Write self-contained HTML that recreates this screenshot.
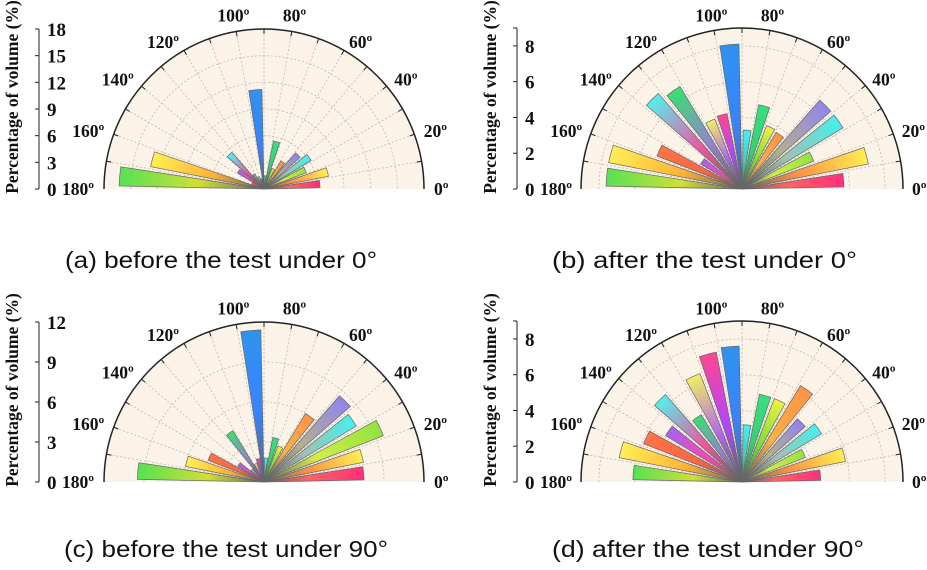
<!DOCTYPE html>
<html><head><meta charset="utf-8"><style>
html,body{margin:0;padding:0;background:#fff;}
svg{display:block;}
.lab{font-family:"Liberation Serif",serif;font-weight:bold;font-size:19px;fill:#111;}
.ang{font-family:"Liberation Serif",serif;font-weight:bold;font-size:17.5px;fill:#111;}
.cap{font-family:"Liberation Sans",sans-serif;font-size:23px;fill:#111;}
</style></head><body>
<svg id="fig" width="927" height="570" viewBox="0 0 927 570" xmlns="http://www.w3.org/2000/svg">
<defs id="defs"></defs>
</svg>
<script>
const binCenters=[5,15,25,35,45,55,65,75,85,95,105,115,125,135,145,155,165,175];
const valuesA=[6.3,7.4,5.1,6.2,5.4,3.7,2.5,5.5,1.5,11.2,1.2,1.5,2.0,5.5,3.5,1.5,13.0,16.3];
const valuesB=[5.7,7.2,4.3,6.6,6.6,3.7,3.8,4.8,3.3,8.1,4.3,4.2,6.7,7.1,2.7,5.1,7.6,7.6];
const valuesC=[7.5,7.6,9.6,8.1,8.6,6.0,2.9,3.4,1.8,11.4,1.8,1.5,4.5,1.3,2.3,4.5,6.0,9.5];
const valuesD=[4.4,5.9,3.8,5.2,4.7,6.3,5.0,5.0,3.2,7.6,7.4,6.5,4.4,6.5,5.0,5.9,7.0,6.1];
const ticksA=[0,3,6,9,12,15,18];
const ticksB=[0,2,4,6,8];
const ticksC=[0,3,6,9,12];
const ticksD=[0,2,4,6,8];
const angleLabels=[0,20,40,60,80,100,120,140,160,180];
const captions=["(a) before the test under 0°","(b) after the test under 0°","(c) before the test under 90°","(d) after the test under 90°"];
const outerColors=["#ff1a6e","#ffee44","#88e030","#33eeee","#8877ee","#ff8833","#eeee33","#22dd77","#33eeff","#1a88ee","#ff3388","#eeee55","#22dd66","#44eeee","#9955ee","#ff6633","#ffee44","#44e044"];
const midColors=["#ff5555","#ff8833","#ccee33","#99bbaa","#aaaa88","#ffaa33","#66dd22","#22cc66","#22ccaa","#2277ff","#aa33ff","#aa55ee","#8877cc","#ee4499","#ff33aa","#ff5533","#ffaa22","#ccdd22"];

const svg=document.getElementById('fig');
const defs=document.getElementById('defs');
const NS='http://www.w3.org/2000/svg';
function mk(tag,attrs,parent){const e=document.createElementNS(NS,tag);for(const k in attrs)e.setAttribute(k,attrs[k]);(parent||svg).appendChild(e);return e;}

let gid=0;
function panel(pid,cx,cy,R,maxV,ticks,vals,capText,capX,capY,capW){
  const g=mk('g',{});
  
  
  const rad=d=>d*Math.PI/180;
  const rScale=v=>v/maxV*R;
  const px=(a,r)=>cx+r*Math.cos(rad(a));
  const py=(a,r)=>cy-r*Math.sin(rad(a));
  const bg=mk('path',{d:`M${cx-R},${cy} A${R},${R} 0 0 1 ${cx+R},${cy} Z`,fill:'#fbf3e7'},g);
  
  
  for(const t of ticks){ if(t<=0||t>=maxV) continue;
    const r=rScale(t);
    const c=mk('path',{d:`M${cx-r},${cy} A${r},${r} 0 0 1 ${cx+r},${cy}`,fill:'none',stroke:'#bbb','stroke-width':0.8,'stroke-dasharray':'2,2'},g);
    
    
  }
  for(let a=10;a<180;a+=10){
    const l=mk('line',{x1:cx,y1:cy,x2:px(a,R),y2:py(a,R),stroke:'#bbb','stroke-width':0.8,'stroke-dasharray':'2,2'},g);
    
    
    const tk=mk('line',{x1:px(a,R),y1:py(a,R),x2:px(a,R-5),y2:py(a,R-5),stroke:'#222','stroke-width':1},g);
    
    
  }
  const hw=3.8;
  binCenters.forEach((c,i)=>{
    const r=rScale(vals[i]);
    const id='gr'+(gid++);
    const lg=mk('linearGradient',{id:id,gradientUnits:'userSpaceOnUse',x1:cx,y1:cy,x2:px(c,r),y2:py(c,r)},defs);
    mk('stop',{offset:'0','stop-color':'#555'},lg);
    mk('stop',{offset:'0.45','stop-color':midColors[i]},lg);
    mk('stop',{offset:'1','stop-color':outerColors[i]},lg);
    const a1=c-hw,a2=c+hw;
    const p=mk('path',{d:`M${cx},${cy} L${px(a1,r)},${py(a1,r)} A${r},${r} 0 0 0 ${px(a2,r)},${py(a2,r)} Z`,fill:`url(#${id})`,stroke:'#666','stroke-width':0.7,'fill-opacity':0.9},g);
    
    
  });
  const arc=mk('path',{d:`M${cx-R},${cy} A${R},${R} 0 0 1 ${cx+R},${cy}`,fill:'none',stroke:'#222','stroke-width':1.5},g);
  
  
  angleLabels.forEach(a=>{
    let anchor='middle',r=170;
    if(a<80)anchor='start'; else if(a>100)anchor='end'; else r=176;
    const t=mk('text',{x:px(a,r),y:py(a,r)+6,'text-anchor':anchor,class:'ang'},g);
    t.textContent=a+'º';
    
    
  });
  const ax=cx-225;
  const yl=mk('line',{x1:ax,y1:cy-R,x2:ax,y2:cy,stroke:'#222','stroke-width':1},g);
  
  
  const tv=ticks.slice(); if(tv.indexOf(maxV)<0) tv.push(maxV);
  tv.forEach(t=>{
    const y=cy-rScale(t);
    const tk=mk('line',{x1:ax-4,y1:y,x2:ax,y2:y,stroke:'#222','stroke-width':1},g);
    
    
    if(ticks.indexOf(t)>=0){
      const tl=mk('text',{x:ax+8,y:y+7,class:'lab'},g);
      tl.textContent=t;
      
      
    }
  });
  const ty=cy-92;
  const tt=mk('text',{x:0,y:0,transform:`translate(${ax-21},${ty}) rotate(-90)`,'text-anchor':'middle',class:'lab',style:'font-size:17.5px'},g);
  tt.textContent='Percentage of volume (%)';
  
  
  const cap=mk('text',{x:capX,y:capY,class:'cap',textLength:capW,lengthAdjust:'spacingAndGlyphs'},g);
  cap.textContent=capText;
  
  
}
panel('a',264,189,160,18,ticksA,valuesA,captions[0],65,268,312);
panel('b',742,189,161,9,ticksB,valuesB,captions[1],552,268,305);
panel('c',264,482,160,12,ticksC,valuesC,captions[2],64,557,324);
panel('d',742,482,161,9,ticksD,valuesD,captions[3],552,557,312);
</script>
</body></html>
